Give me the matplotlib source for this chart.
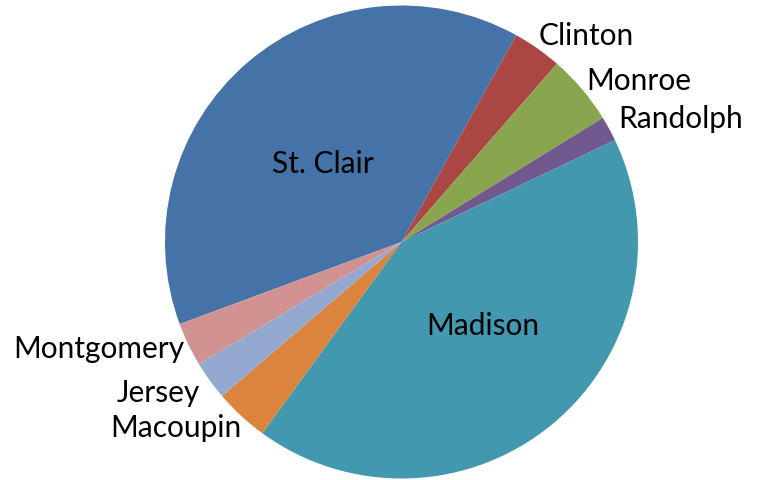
import matplotlib
matplotlib.use("Agg")
import matplotlib.pyplot as plt

# Data (share of pie, in percent)
counties = ["St. Clair", "Clinton", "Monroe", "Randolph", "Madison", "Macoupin", "Jersey", "Montgomery"]
shares = [38.7, 3.35, 4.8, 1.7, 42.1, 3.7, 2.65, 3.0]
colors = ["#4572A7", "#AA4643", "#89A54E", "#71588F", "#4198AF", "#DB843D", "#93A9CF", "#D19392"]

W, H = 758, 481
fig = plt.figure(figsize=(W / 100, H / 100), dpi=100)
ax = fig.add_axes([0, 0, 1, 1])

cx, cy, r = 401.5, H - 243, 236.5
ax.pie(shares, colors=colors, startangle=200.3, counterclock=False,
       center=(cx, cy), radius=r, frame=True,
       wedgeprops=dict(linewidth=0))
ax.set_xlim(0, W)
ax.set_ylim(0, H)
ax.set_aspect("auto")
ax.axis("off")

# label positions (left x, baseline y in pixel coords from top)
label_pos = {
    "St. Clair": (271.7, 173.3),
    "Madison": (426.7, 335.0),
    "Montgomery": (13.3, 358.3),
    "Jersey": (116.7, 401.7),
    "Macoupin": (110.0, 437.3),
    "Clinton": (538.3, 45.0),
    "Monroe": (586.7, 90.0),
    "Randolph": (618.3, 128.3),
}
for name in counties:
    x, y = label_pos[name]
    ax.text(x, H - y, name, ha="left", va="baseline", fontsize=21.5,
            family=["Lato", "DejaVu Sans"], color="#000000")

fig.savefig("out.png", dpi=100)
